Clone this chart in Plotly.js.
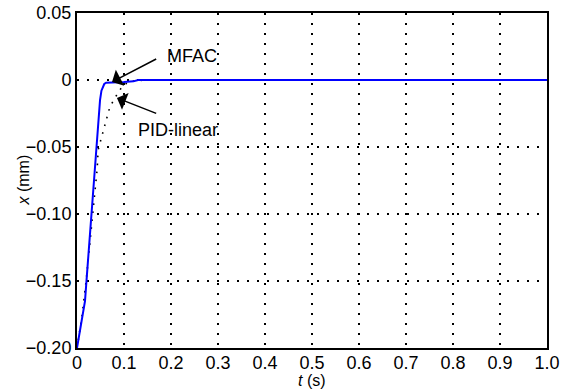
<!DOCTYPE html>
<html>
<head>
<meta charset="utf-8">
<script src="https://cdn.plot.ly/plotly-3.0.1.min.js"></script>
<style>html,body{margin:0;padding:0;background:#fff;}#chart{width:568px;height:390px;}</style>
</head>
<body>
<div id="chart"></div>
<script>
// MFAC response (blue solid)
const mfacT = [0, 0.002, 0.005, 0.008, 0.011, 0.014, 0.017, 0.021, 0.024, 0.027, 0.030, 0.034, 0.038, 0.043, 0.049, 0.052, 0.055, 0.058, 0.062, 0.080, 0.100, 0.120, 0.130, 0.200, 0.400, 0.600, 0.800, 1.000];
const mfacX = [-0.200, -0.196, -0.191, -0.185, -0.179, -0.172, -0.165, -0.146, -0.132, -0.116, -0.097, -0.084, -0.065, -0.040, -0.015, -0.008, -0.005, -0.003, -0.002, -0.002, -0.0015, -0.001, 0, 0, 0, 0, 0, 0];
// PID-linear response (black dotted)
const pidT = [0, 0.010, 0.020, 0.030, 0.036, 0.038, 0.043, 0.045, 0.055, 0.062, 0.066, 0.070, 0.087, 0.098, 0.113, 0.145, 0.300, 0.600, 1.000];
const pidX = [-0.200, -0.178, -0.148, -0.112, -0.087, -0.081, -0.066, -0.052, -0.039, -0.032, -0.026, -0.020, -0.0097, -0.004, -0.001, 0, 0, 0, 0];

const xTickVals = [0, 0.1, 0.2, 0.3, 0.4, 0.5, 0.6, 0.7, 0.8, 0.9, 1.0];
const xTickText = ["0", "0.1", "0.2", "0.3", "0.4", "0.5", "0.6", "0.7", "0.8", "0.9", "1.0"];
const yTickVals = [0.05, 0, -0.05, -0.10, -0.15, -0.20];
const yTickText = ["0.05", "0", "\u22120.05", "\u22120.10", "\u22120.15", "\u22120.20"];

const FONT = "Liberation Sans, Arial, Helvetica, sans-serif";
const FS = 18;

const traces = [
  {x: pidT, y: pidX, mode: "lines", name: "PID-linear",
   line: {color: "#000000", width: 1.6, dash: "1.6px,6.4px"}},
  {x: mfacT, y: mfacX, mode: "lines", name: "MFAC",
   line: {color: "#0000ff", width: 2}}
];

const gridDash = "1.5px,8.5px";
const layout = {
  width: 568, height: 390,
  margin: {l: 77, r: 21, t: 13, b: 42},
  paper_bgcolor: "#ffffff", plot_bgcolor: "#ffffff",
  showlegend: false,
  font: {family: FONT, size: FS, color: "#000"},
  xaxis: {
    range: [0, 1], tickvals: xTickVals, ticktext: xTickText,
    showgrid: true, gridcolor: "#000", gridwidth: 1.3, griddash: gridDash,
    zeroline: false, showline: true, linecolor: "#000", linewidth: 2, mirror: true,
    ticks: "", ticklabelstandoff: -3, tickfont: {family: FONT, size: FS},
    title: {text: ""}
  },
  yaxis: {
    range: [-0.2, 0.05], tickvals: yTickVals, ticktext: yTickText,
    showgrid: true, gridcolor: "#000", gridwidth: 1.3, griddash: gridDash,
    zeroline: false, showline: true, linecolor: "#000", linewidth: 2, mirror: true,
    ticks: "", tickfont: {family: FONT, size: FS},
    title: {text: ""}
  },
  annotations: [
    {x: 0.5, y: 0, xref: "paper", yref: "paper", text: "<i>t</i> (s)", showarrow: false,
     yanchor: "bottom", borderpad: 0, font: {family: FONT, size: 16, color: "#000"}},
    {x: 0, y: 0.5, xref: "paper", yref: "paper", text: "<i>x</i> (mm)", showarrow: false,
     textangle: -90, xanchor: "center", font: {family: FONT, size: 16, color: "#000"}},
    {x: 0.0745, y: -0.0015, xref: "x", yref: "y", axref: "x", ayref: "y",
     ax: 0.177, ay: 0.0172, text: " ", showarrow: true,
     arrowhead: 1, arrowsize: 2, arrowwidth: 1.5, arrowcolor: "#000"},
    {x: 0.245, y: 0.0180, xref: "x", yref: "y", text: "MFAC", showarrow: false,
     font: {family: FONT, size: FS, color: "#000"}},
    {x: 0.085, y: -0.0134, xref: "x", yref: "y", axref: "x", ayref: "y",
     ax: 0.177, ay: -0.0261, text: " ", showarrow: true,
     arrowhead: 1, arrowsize: 2, arrowwidth: 1.5, arrowcolor: "#000"},
    {x: 0.215, y: -0.0373, xref: "x", yref: "y", text: "PID-linear", showarrow: false,
     font: {family: FONT, size: FS, color: "#000"}}
  ]
};
// place the axis titles at pixel positions converted to paper coordinates
const plotW = layout.width - layout.margin.l - layout.margin.r;
const plotH = layout.height - layout.margin.t - layout.margin.b;
layout.annotations[0].y = (layout.height - layout.margin.b - 390) / plotH;
layout.annotations[1].x = (23 - layout.margin.l) / plotW;

Plotly.newPlot("chart", traces, layout, {displayModeBar: false, staticPlot: true});
</script>
</body>
</html>
